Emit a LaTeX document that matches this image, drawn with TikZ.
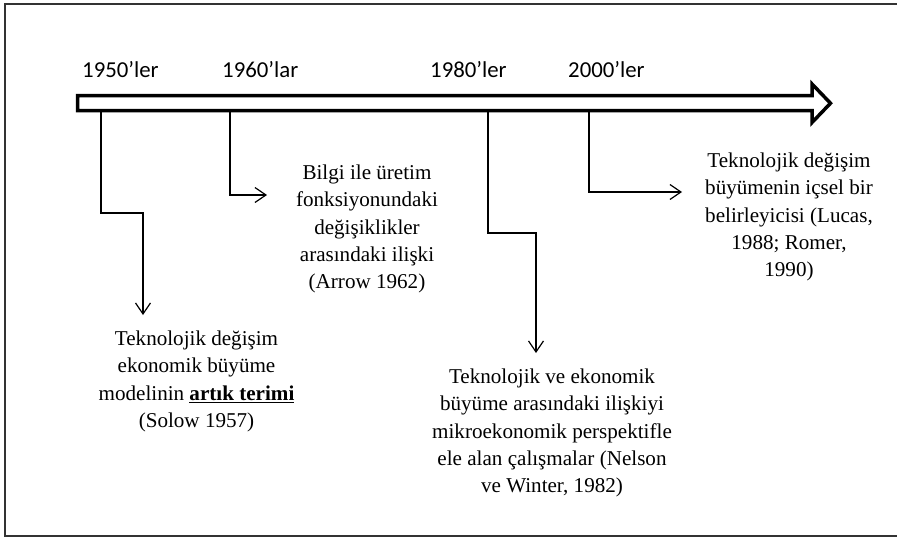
\documentclass[tikz,border=0pt]{standalone}
\usepackage{fontspec}
\setmainfont{Liberation Serif}
\newfontfamily\labelfont{Carlito}
\usetikzlibrary{arrows.meta}
\begin{document}
\begin{tikzpicture}[x=1pt,y=-1pt,
  yearlbl/.style={anchor=base west,inner sep=0pt,font=\labelfont\fontsize{22.8}{27}\selectfont},
  desc/.style={anchor=north,inner sep=0pt,align=center,font=\fontsize{21.1}{27.4}\selectfont},
  conn/.style={line width=1.2pt,-{Straight Barb[length=11pt,width=15pt,line width=1.2pt]}},
  timeline/.style={line width=3.5pt,miter limit=10}]
\useasboundingbox (0,0) rectangle (897,538);
% frame
\draw[line width=1.6pt,draw=black!80] (900,4) -- (5,4) -- (5,536) -- (900,536);
% big arrow
\draw[timeline] (77.5,95.5) -- (812,95.5) -- (812,84) -- (830.5,103.25) -- (812,122.5) -- (812,110.5) -- (77.5,110.5) -- cycle;
% year labels
\node[yearlbl] (y1) at (82,77) {1950’ler};
\node[yearlbl] (y2) at (222,77) {1960’lar};
\node[yearlbl] (y3) at (430,77) {1980’ler};
\node[yearlbl] (y4) at (568,77) {2000’ler};
% anchor points on the timeline
\coordinate (t1) at (101,112);
\coordinate (t2) at (230,112);
\coordinate (t3) at (488,112);
\coordinate (t4) at (589,112);
\coordinate (b1) at (143,213);
\coordinate (e1) at (143,315);
\coordinate (e2) at (267,195);
\coordinate (b3) at (536,233);
\coordinate (e3) at (536,353);
\coordinate (e4) at (682,192);
% descriptions (north = first baseline - ascender)
\node[desc] (d1) at (196.5,330.5) {Teknolojik değişim\\ekonomik büyüme\\modelinin \underline{\textbf{artık terimi}}\\(Solow 1957)};
\node[desc] (d2) at (367,164.5) {Bilgi ile üretim\\fonksiyonundaki\\değişiklikler\\arasındaki ilişki\\(Arrow 1962)};
\node[desc] (d3) at (552,368.5) {Teknolojik ve ekonomik\\büyüme arasındaki ilişkiyi\\mikroekonomik perspektifle\\ele alan çalışmalar (Nelson\\ve Winter, 1982)};
\node[desc] (d4) at (789,152.5) {Teknolojik değişim\\büyümenin içsel bir\\belirleyicisi (Lucas,\\1988; Romer,\\1990)};
% connectors
\draw[conn] (t1) |- (b1) -- (e1);
\draw[conn] (t2) |- (e2);
\draw[conn] (t3) |- (b3) -- (e3);
\draw[conn] (t4) |- (e4);
\end{tikzpicture}
\end{document}
